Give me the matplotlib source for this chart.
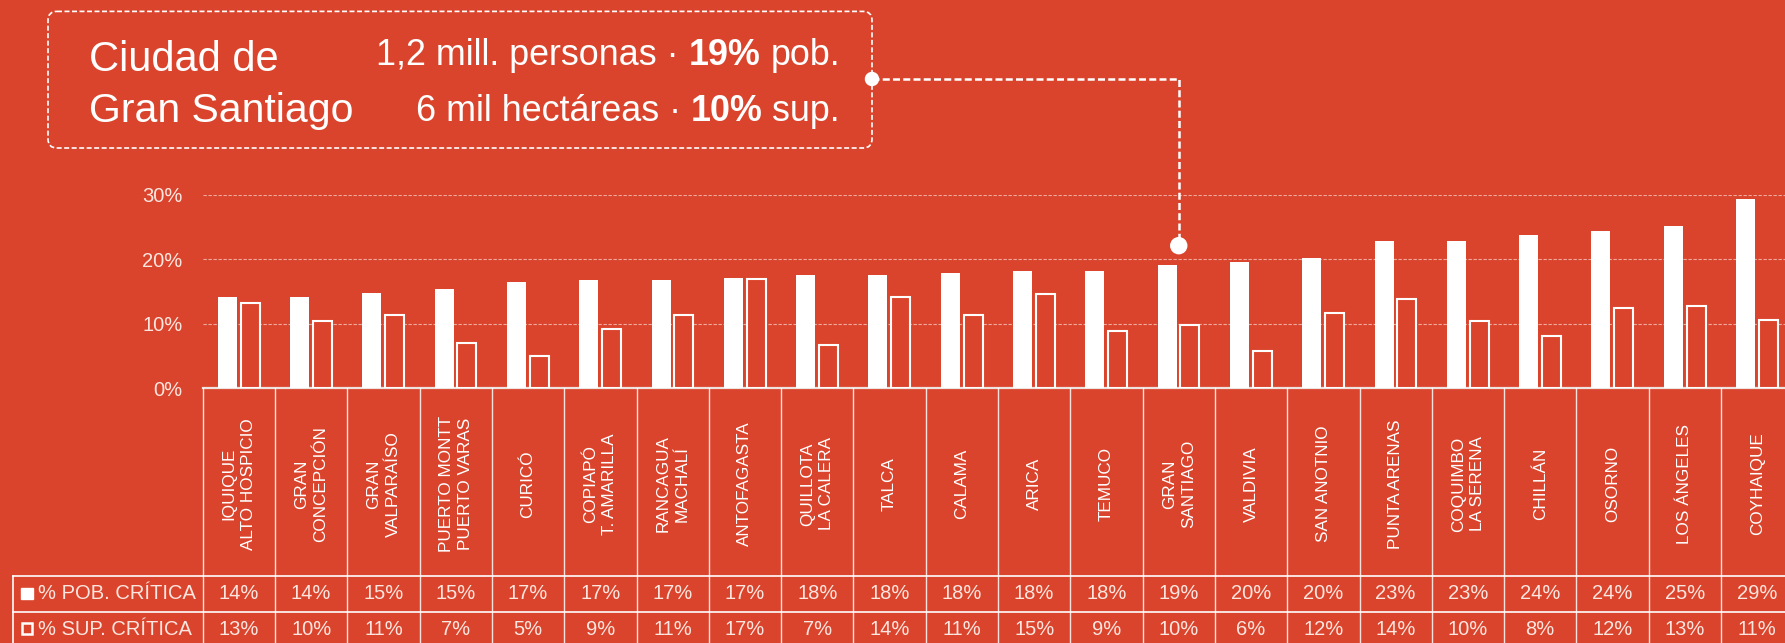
import matplotlib
matplotlib.use("Agg")
import matplotlib.pyplot as plt
from matplotlib.patches import FancyBboxPatch, Rectangle, Circle

plt.rcParams['font.family'] = ['Liberation Sans', 'DejaVu Sans']

# datos
ciudades = ["IQUIQUE\nALTO HOSPICIO", "GRAN\nCONCEPCIÓN", "GRAN\nVALPARAÍSO",
            "PUERTO MONTT\nPUERTO VARAS", "CURICÓ", "COPIAPÓ\nT. AMARILLA",
            "RANCAGUA\nMACHALÍ", "ANTOFAGASTA", "QUILLOTA\nLA CALERA", "TALCA",
            "CALAMA", "ARICA", "TEMUCO", "GRAN\nSANTIAGO", "VALDIVIA",
            "SAN ANOTNIO", "PUNTA ARENAS", "COQUIMBO\nLA SERENA", "CHILLÁN",
            "OSORNO", "LOS ÁNGELES", "COYHAIQUE"]
pob_critica = [14.1, 14.2, 14.7, 15.3, 16.5, 16.8, 16.8, 17.1, 17.5, 17.6, 17.8,
               18.2, 18.2, 19.1, 19.5, 20.2, 22.8, 22.9, 23.7, 24.4, 25.1, 29.3]
sup_critica = [13.2, 10.4, 11.4, 7.0, 5.0, 9.1, 11.3, 16.9, 6.6, 14.1, 11.3,
               14.6, 8.8, 9.8, 5.7, 11.6, 13.8, 10.4, 8.1, 12.4, 12.7, 10.6]
pob_tabla = [14, 14, 15, 15, 17, 17, 17, 17, 18, 18, 18, 18, 18, 19, 20, 20, 23, 23, 24, 24, 25, 29]
sup_tabla = [13, 10, 11, 7, 5, 9, 11, 17, 7, 14, 11, 15, 9, 10, 6, 12, 14, 10, 8, 12, 13, 11]
yticks = [0, 10, 20, 30]
destacada = "GRAN\nSANTIAGO"

BG = '#DB442C'
TXT = '#FBE6E0'
W, H = 1785, 643
x0 = 202.7      # borde izquierdo de la primera columna (px)
colw = 72.3     # ancho de columna (px)
y0 = 388        # linea del 0% (px desde arriba)
px10 = 64.4     # px por 10%

fig = plt.figure(figsize=(W / 100, H / 100), dpi=100, facecolor=BG)

# grafico de barras
ax = fig.add_axes([x0 / W, (H - y0) / H, (W - x0) / W, 3 * px10 / H])
ax.set_facecolor('none')
ax.set_xlim(0, (W - x0) / colw)
ax.set_ylim(0, 30)
pos = [i + 0.5 for i in range(len(ciudades))]
ax.bar([p - 0.16 for p in pos], pob_critica, width=0.263, color='white', zorder=3)
ax.bar([p + 0.155 for p in pos], sup_critica, width=0.262, facecolor=BG,
       edgecolor='white', linewidth=1.5, zorder=3)
for t in yticks[1:]:
    ax.axhline(t, color='white', alpha=0.55, lw=0.8, ls=(0, (3, 1.5)), zorder=1)
ax.set_yticks(yticks)
ax.set_yticklabels([f"{t}%" for t in yticks], fontsize=14.5, color=TXT)
ax.tick_params(axis='y', length=0, pad=14.7)
ax.set_xticks([])
for s in ax.spines.values():
    s.set_visible(False)

# capa en pixeles para tabla y anotacion
ov = fig.add_axes([0, 0, 1, 1], zorder=-1)
ov.set_xlim(0, W)
ov.set_ylim(H, 0)
ov.axis('off')

ov.plot([x0, W], [y0, y0], color='#EDE3E1', lw=1.6)
for k in range(len(ciudades)):
    xs = x0 + k * colw
    ov.plot([xs, xs], [y0, H], color='white', lw=1.0, alpha=0.85)
r1, r2 = 575.7, 611.7
for yy in (r1, r2):
    ov.plot([12.7, W], [yy, yy], color='white', lw=1.2)
ov.plot([12.7, 12.7], [r1, H], color='white', lw=1.2)

for k, c in enumerate(ciudades):
    xc = x0 + (k + 0.5) * colw
    ov.text(xc, 484, c, rotation=90, ha='center', va='center', fontsize=12.3,
            color='white', linespacing=1.35, multialignment='center')
    ov.text(xc, (r1 + r2) / 2, f"{pob_tabla[k]}%", ha='center', va='center',
            fontsize=14.5, color=TXT)
    ov.text(xc, r2 + 18, f"{sup_tabla[k]}%", ha='center', va='center',
            fontsize=14.5, color=TXT)

# leyenda dentro de la tabla
ov.add_patch(Rectangle((21.3, 588), 11.4, 11.4, color='white'))
ov.add_patch(Rectangle((21.8, 623.4), 10.6, 10.6, facecolor='none', edgecolor='white', lw=1.8))
ov.text(37.7, (r1 + r2) / 2, "% POB. CRÍTICA", ha='left', va='center', fontsize=14.5, color=TXT)
ov.text(37.7, r2 + 18, "% SUP. CRÍTICA", ha='left', va='center', fontsize=14.5, color=TXT)

# cuadro de anotacion
ov.add_patch(FancyBboxPatch((48, 11.4), 824, 136.6, boxstyle="round,pad=0,rounding_size=9",
                            facecolor='none', edgecolor='white', lw=1.2, ls=(0, (3, 1.5))))
ov.text(89, 71, "Ciudad de", fontsize=30, color='white', va='baseline')
ov.text(89, 122, "Gran Santiago", fontsize=29.5, color='white', va='baseline')

renderer = fig.canvas.get_renderer()


def texto_derecha(x_right, y_base, partes, size=25.8):
    x = x_right
    gap = 0.278 * size * 100 / 72
    for s, w in reversed(partes):
        t = ov.text(x, y_base, s, ha='right', va='baseline', fontsize=size,
                    color='white', fontweight=w)
        bb = t.get_window_extent(renderer)
        x = x - bb.width - gap


texto_derecha(840, 65, [("1,2 mill. personas ·", 'normal'), ("19%", 'bold'), ("pob.", 'normal')])
texto_derecha(840, 121, [("6 mil hectáreas ·", 'normal'), ("10%", 'bold'), ("sup.", 'normal')])

# conector hacia Gran Santiago
i_gs = ciudades.index(destacada)
xd, yd = ax.transData.transform((pos[i_gs], pob_critica[i_gs] + 3.0))
xe, ye = xd, H - yd
ov.plot([872, xe, xe], [79, 79, ye], color='white', lw=1.8, ls=(0, (2.8, 1.3)),
        solid_joinstyle='round')
ov.add_patch(Circle((872, 79), 6.5, color='white'))
ov.add_patch(Circle((xe, ye), 8, color='white'))

fig.savefig("out.png", dpi=100, facecolor=BG)
